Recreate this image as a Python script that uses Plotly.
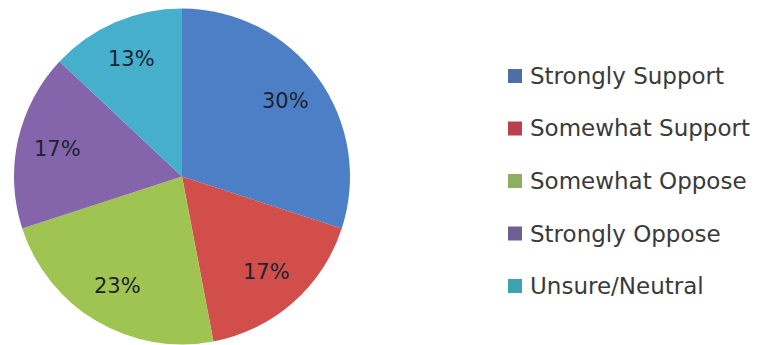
import math
import plotly.graph_objects as go

# Survey responses (percent of respondents)
categories = ["Strongly Support", "Somewhat Support", "Somewhat Oppose",
              "Strongly Oppose", "Unsure/Neutral"]
values = [30, 17, 23, 17, 13]
slice_colors = ["#4C7FC6", "#D24E4B", "#A0C451", "#8465AC", "#46AFCC"]
key_colors = ["#4E6FA6", "#B9414F", "#8EAF62", "#6E5E92", "#3DA3AE"]

W, H = 775, 345
# pie geometry in pixels (center measured from the top-left corner)
cx, cy, R = 182, 176.5, 168

fig = go.Figure(go.Pie(
    labels=categories,
    values=values,
    sort=False,
    direction="clockwise",
    rotation=0,
    textinfo="none",
    hoverinfo="label+percent",
    marker=dict(colors=slice_colors, line=dict(width=0)),
    domain=dict(x=[(cx - R) / W, (cx + R) / W],
                y=[(H - cy - R) / H, (H - cy + R) / H]),
    showlegend=False,
))

# percentage labels placed inside each slice at its mid angle
total = sum(values)
cum = 0
annotations = []
for v in values:
    mid = (cum + v / 2) / total * 2 * math.pi
    cum += v
    px = cx + 0.76 * R * math.sin(mid)
    py = cy - 0.76 * R * math.cos(mid)
    annotations.append(dict(
        x=px / W, y=1 - py / H, xref="paper", yref="paper",
        text=f"{round(v / total * 100)}%", showarrow=False,
        font=dict(family="DejaVu Sans", size=21, color="#1c2230"),
        xanchor="center", yanchor="middle"))

# key: colored squares with category names
shapes = []
row0, gap, sq = 76, 52.5, 14
for i, (name, col) in enumerate(zip(categories, key_colors)):
    yc = row0 + i * gap
    shapes.append(dict(type="rect", xref="paper", yref="paper",
                       x0=508 / W, x1=(508 + sq) / W,
                       y0=1 - (yc + sq / 2) / H, y1=1 - (yc - sq / 2) / H,
                       fillcolor=col, line=dict(width=0)))
    annotations.append(dict(
        x=528 / W, y=1 - yc / H, xref="paper", yref="paper",
        text=name, showarrow=False, xanchor="left", yanchor="middle",
        font=dict(family="DejaVu Sans", size=23, color="#3a3a3a")))

fig.update_layout(
    width=W, height=H,
    margin=dict(l=0, r=0, t=0, b=0),
    paper_bgcolor="white",
    plot_bgcolor="white",
    annotations=annotations,
    shapes=shapes,
)

fig.write_html("out.html")
